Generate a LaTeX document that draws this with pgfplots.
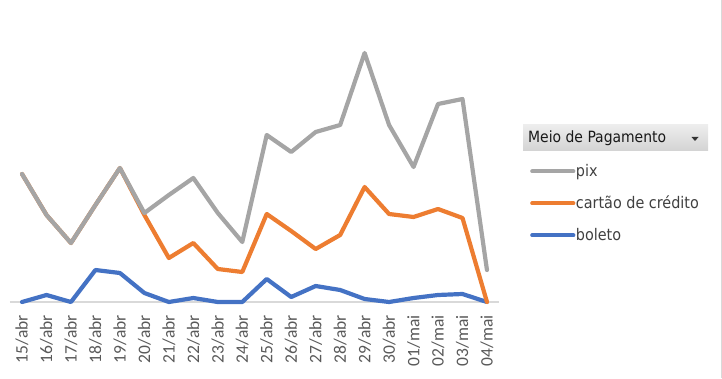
\documentclass[border=0pt]{standalone}
\usepackage{pgfplots}
\pgfplotsset{compat=1.18}
\usepackage{fontspec}
\setmainfont{Carlito}
\newfontfamily\legfont{DejaVu Sans Condensed}
\definecolor{cpix}{HTML}{A5A5A5}
\definecolor{ccc}{HTML}{ED7D31}
\definecolor{cbol}{HTML}{4472C4}
\definecolor{cbase}{HTML}{D9D9D9}
\definecolor{ctick}{HTML}{595959}
\definecolor{cleg}{HTML}{404040}
\definecolor{hdtop}{HTML}{EDEDED}
\definecolor{hdbot}{HTML}{D3D3D3}
\begin{document}
\begin{tikzpicture}[x=1pt,y=1pt]
\path[use as bounding box] (0,0) rectangle (722,378);
\draw[cbase, line width=1pt] (721,0) -- (721,378);
% legend header
\shade[top color=hdtop, bottom color=hdbot] (523,227) rectangle (708,253);
\node[anchor=west, inner sep=0pt, font=\legfont\fontsize{15.5pt}{18pt}\selectfont, text=black!90] at (528,240) {Meio de Pagamento};
\fill[black!80] (691.5,241) -- (698.5,241) -- (695,237) -- cycle;
\begin{axis}[
  at={(9.8pt,76pt)}, anchor=south west,
  scale only axis, width=489.4pt, height=282pt,
  xmin=-0.5, xmax=19.5, ymin=0, ymax=282,
  axis x line=bottom, axis y line=none,
  x axis line style={-, draw=cbase, line width=1.5pt},
  xtick={0,...,19}, major tick length=0pt,
  xticklabels={15/abr,16/abr,17/abr,18/abr,19/abr,20/abr,21/abr,22/abr,23/abr,24/abr,25/abr,26/abr,27/abr,28/abr,29/abr,30/abr,01/mai,02/mai,03/mai,04/mai},
  xticklabel style={rotate=90, anchor=east, inner sep=0pt, text=ctick, font=\fontsize{17.5pt}{20pt}\selectfont},
  xticklabel shift=13pt,
  clip=false,
  every axis plot/.append style={line width=4.2pt, line cap=round, line join=round, mark=none},
  reverse legend,
  legend image code/.code={\draw[#1] (0pt,0pt) -- (41pt,0pt);},
  legend style={at={(axis description cs:1.0629,0.49)}, anchor=north west, draw=none, fill=none, inner sep=0pt,
    font=\legfont\fontsize{16pt}{18pt}\selectfont, text=cleg, row sep=17pt, column sep=0pt,
    nodes={inner sep=0.5pt, anchor=west}},
  legend cell align=left,
]
\addplot[cbol] coordinates {(0,0) (1,7) (2,0) (3,32) (4,29) (5,9) (6,0) (7,4) (8,0) (9,0) (10,23) (11,5) (12,16) (13,12) (14,3) (15,0) (16,4) (17,7) (18,8) (19,0)};
\addlegendentry{boleto}
\addplot[ccc] coordinates {(0,128) (1,87) (2,59) (3,97) (4,134) (5,87) (6,44) (7,59) (8,33) (9,30) (10,88) (11,71) (12,53) (13,67) (14,115) (15,88) (16,85) (17,93) (18,84) (19,0)};
\addlegendentry{cartão de crédito}
\addplot[cpix] coordinates {(0,128) (1,87) (2,59) (3,97) (4,134) (5,89) (6,107) (7,124) (8,89) (9,60) (10,167) (11,150) (12,170) (13,177) (14,249) (15,177) (16,135) (17,198) (18,203) (19,32)};
\addlegendentry{pix}
\end{axis}
\end{tikzpicture}
\end{document}
